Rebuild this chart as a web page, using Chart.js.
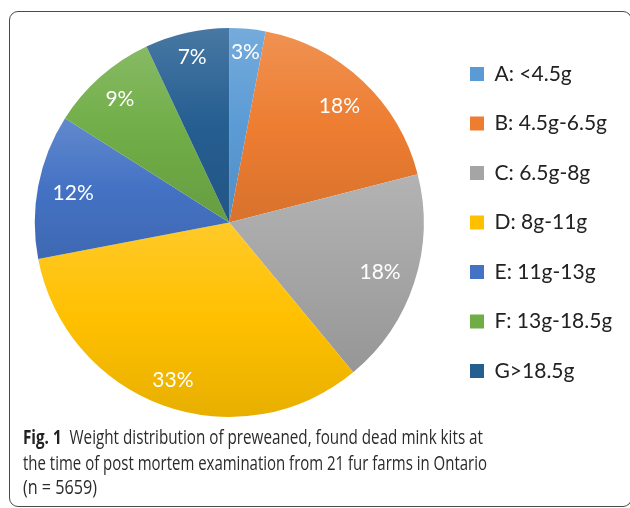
<!DOCTYPE html>
<html>
<head>
<meta charset="utf-8">
<script src="https://cdn.jsdelivr.net/npm/chart.js@4/dist/chart.umd.min.js"></script>
<style>
  html, body { margin: 0; padding: 0; background: #fff; }
  #wrap { position: relative; width: 630px; height: 508px; overflow: hidden; background: #fff; }
  #frame { position: absolute; left: 9px; top: 11px; width: 623px; height: 496px; box-sizing: border-box;
           border: 1.5px solid #4a4a4a; border-radius: 9px; }
  #c { position: absolute; left: 0; top: 0; }
  .ln { position: absolute; left: 23px; white-space: nowrap; font-family: "Open Sans", sans-serif;
        font-size: 20px; line-height: 25px; color: #2b2b2b; transform-origin: 0 0; }
  .ln b { font-weight: 700; color: #222; }
</style>
</head>
<body>
<div id="wrap">
  <div id="frame"></div>
  <canvas id="c" width="630" height="508"></canvas>
  <div class="ln" data-w="460" style="top:424px"><b>Fig. 1</b>&nbsp; Weight distribution of preweaned, found dead mink kits at</div>
  <div class="ln" data-w="464" style="top:450px">the time of post mortem examination from 21 fur farms in Ontario</div>
  <div class="ln" data-w="74" style="top:474px">(n = 5659)</div>
</div>
<script>
// ---- data ----
const categories = ['A: <4.5g', 'B: 4.5g-6.5g', 'C: 6.5g-8g', 'D: 8g-11g', 'E: 11g-13g', 'F: 13g-18.5g', 'G>18.5g'];
const percentages = [3, 18, 18, 33, 12, 9, 7];
const baseColors = ['#5B9BD5', '#ED7D31', '#A5A5A5', '#FFC000', '#4472C4', '#70AD47', '#255E91'];

// ---- helpers ----
function hexToRgb(h) { const n = parseInt(h.slice(1), 16); return [(n >> 16) & 255, (n >> 8) & 255, n & 255]; }
function mix(hex, t) {
  const c = hexToRgb(hex);
  const r = c.map(v => t >= 0 ? Math.round(v + (255 - v) * t) : Math.round(v * (1 + t)));
  return 'rgb(' + r.join(',') + ')';
}
function sliceGradient(context) {
  const i = context.dataIndex;
  const chart = context.chart;
  const ca = chart.chartArea;
  if (i === undefined || !ca) return baseColors[0];
  const base = baseColors[i];
  const data = context.dataset.data;
  const total = data.reduce((a, b) => a + b, 0);
  let cum = 0; for (let k = 0; k < i; k++) cum += data[k];
  const cx = (ca.left + ca.right) / 2, cy = (ca.top + ca.bottom) / 2;
  const r = Math.min(ca.right - ca.left, ca.bottom - ca.top) / 2;
  const a0 = -Math.PI / 2 + 2 * Math.PI * cum / total;
  const a1 = a0 + 2 * Math.PI * data[i] / total;
  const ys = [cy, cy + r * Math.sin(a0), cy + r * Math.sin(a1)];
  for (const t of [-Math.PI / 2, Math.PI / 2, 1.5 * Math.PI]) if (t > a0 && t < a1) ys.push(cy + r * Math.sin(t));
  const y0 = Math.min(...ys), y1 = Math.max(...ys);
  const g = chart.ctx.createLinearGradient(0, y0, 0, y1 + 0.01);
  g.addColorStop(0, mix(base, 0.16));
  g.addColorStop(0.5, mix(base, 0));
  g.addColorStop(1, mix(base, -0.09));
  return g;
}

const LEGEND_W = 170;
const LEGEND_LEFT = 441.5;
const fixLegend = {
  id: 'fixLegend',
  beforeLayout(chart) {
    const lg = chart.legend;
    if (lg && !lg._fixed) {
      const orig = lg.fit.bind(lg);
      lg.fit = function () { orig(); this.width = LEGEND_W; };
      lg._fixed = true;
    }
  }
};

const pctLabels = {
  id: 'pctLabels',
  afterDatasetsDraw(chart) {
    const ctx = chart.ctx;
    const meta = chart.getDatasetMeta(0);
    const data = chart.data.datasets[0].data;
    ctx.save();
    ctx.font = '21px Lato';
    ctx.fillStyle = '#ffffff';
    ctx.textAlign = 'center';
    ctx.textBaseline = 'middle';
    const h = 15;
    meta.data.forEach((arc, i) => {
      const p = arc.getProps(['x', 'y', 'startAngle', 'endAngle', 'outerRadius'], true);
      const a = (p.startAngle + p.endAngle) / 2;
      const txt = data[i] + '%';
      const w = ctx.measureText(txt).width;
      const ext = Math.abs(Math.cos(a)) * w / 2 + Math.abs(Math.sin(a)) * h / 2;
      const rr = p.outerRadius - 14 - ext;
      ctx.fillText(txt, p.x + rr * Math.cos(a), p.y + rr * Math.sin(a) + 1);
    });
    ctx.restore();
  }
};

new Chart(document.getElementById('c'), {
  type: 'pie',
  data: {
    labels: categories,
    datasets: [{
      data: percentages,
      backgroundColor: sliceGradient,
      borderWidth: 0
    }]
  },
  options: {
    responsive: false,
    animation: false,
    events: [],
    layout: { padding: { left: 17, top: 28, bottom: 91, right: 630 - LEGEND_LEFT - LEGEND_W } },
    plugins: {
      tooltip: { enabled: false },
      legend: {
        position: 'right',
        align: 'center',
        labels: {
          boxWidth: 14,
          boxHeight: 14,
          padding: 28.5,
          color: '#222222',
          font: { family: 'Lato', size: 21 },
          generateLabels(chart) {
            const items = Chart.overrides.pie.plugins.legend.labels.generateLabels(chart);
            items.forEach((it, i) => { it.fillStyle = baseColors[i]; it.strokeStyle = baseColors[i]; it.lineWidth = 0; });
            return items;
          }
        }
      }
    }
  },
  plugins: [fixLegend, pctLabels]
});

// fit caption lines to the reference widths
document.querySelectorAll('.ln').forEach(el => {
  const target = +el.dataset.w;
  el.style.display = 'inline-block';
  const w = el.getBoundingClientRect().width;
  el.style.transform = 'scaleX(' + (target / w) + ')';
});
</script>
</body>
</html>
